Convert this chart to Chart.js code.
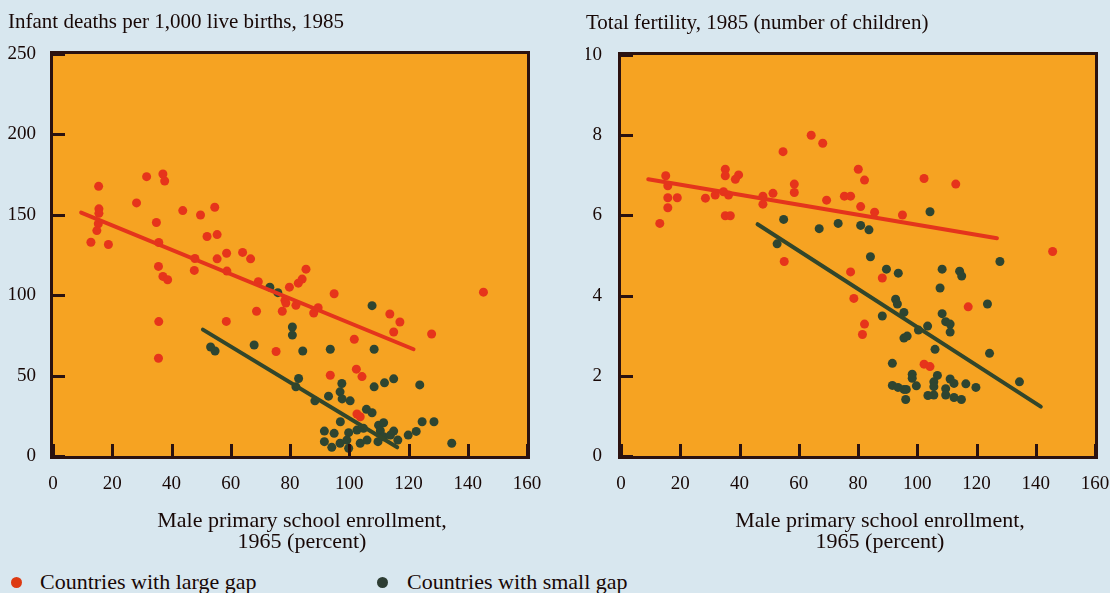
<!DOCTYPE html>
<html>
<head>
<meta charset="utf-8">
<script src="https://cdn.jsdelivr.net/npm/chart.js@4"></script>
<style>
  html, body { margin:0; padding:0; width:1110px; height:593px; overflow:hidden; background:#d8e7ef; font-family:"Liberation Serif", serif; color:#180806; }
  #wrapL { position:absolute; left:0; top:0; width:560px; height:560px; }
  #wrapR { position:absolute; left:560px; top:0; width:550px; height:560px; }
  .leg { position:absolute; top:569px; font-size:22px; line-height:26px; white-space:nowrap; }
  .dot { position:absolute; top:8px; width:11px; height:11px; border-radius:50%; }
</style>
</head>
<body>
<div id="wrapL"><canvas id="cL" width="560" height="560"></canvas></div>
<div id="wrapR"><canvas id="cR" width="550" height="560"></canvas></div>
<div class="leg" style="left:0"><span class="dot" style="left:11px;background:#dd3a12"></span><span style="position:absolute;left:40px">Countries with large gap</span></div>
<div class="leg" style="left:366px"><span class="dot" style="left:11px;background:#2d3d33"></span><span style="position:absolute;left:41px">Countries with small gap</span></div>
<script>
// ---------- data ----------
const xTicks = [0, 20, 40, 60, 80, 100, 120, 140, 160];
const infantTicks = [0, 50, 100, 150, 200, 250];
const fertilityTicks = [0, 2, 4, 6, 8, 10];
const xTitleLines = ['Male primary school enrollment,', '1965 (percent)'];
const seriesNames = ['Countries with large gap', 'Countries with small gap'];

const infantLargeGap = [
  [15.4,167.7],[31.6,173.7],[37.1,175.4],[37.7,171.0],[28.2,157.4],[15.5,153.7],[15.5,150.9],[43.8,152.6],
  [49.8,149.9],[54.6,154.7],[34.9,145.2],[15.3,144.4],[14.8,140.2],[12.8,132.9],[18.7,131.5],[35.7,132.8],
  [52.0,136.5],[55.4,137.7],[47.9,122.8],[55.4,122.6],[58.6,126.1],[64.0,126.6],[66.7,122.6],[35.6,117.9],
  [47.7,115.4],[37.1,111.7],[38.7,109.6],[58.7,115.0],[69.3,108.4],[78.3,96.8],[79.8,105.0],[68.7,90.0],
  [77.4,90.0],[35.7,83.6],[58.5,83.7],[35.6,60.8],[85.4,116.2],[84.1,110.0],[82.8,107.5],[94.9,100.9],
  [78.6,95.1],[82.0,93.7],[89.5,92.2],[88.0,88.9],[113.7,88.3],[117.1,83.3],[115.0,77.1],[127.8,75.9],
  [145.3,101.9],[101.7,72.6],[102.4,54.0],[93.6,50.2],[104.3,49.4],[102.6,26.1],[103.7,24.4],[75.3,65.0]
];
const infantSmallGap = [
  [53.2,67.8],[54.7,65.3],[67.9,69.0],[75.9,101.6],[73.2,105.0],[80.8,80.2],[80.8,75.2],[84.3,65.3],
  [93.6,66.4],[108.4,66.4],[107.7,93.5],[82.9,48.2],[97.5,45.1],[108.4,43.0],[111.9,45.5],[115.0,48.0],
  [123.8,44.2],[93.0,37.2],[96.9,39.9],[97.6,35.5],[100.3,34.3],[88.4,34.3],[82.0,43.0],[105.8,29.0],
  [107.7,26.9],[97.0,21.3],[91.6,15.5],[94.9,14.1],[99.8,14.5],[102.6,16.1],[104.8,17.2],[109.9,19.2],
  [111.6,20.7],[115.0,15.5],[110.5,15.7],[111.6,12.0],[113.9,13.0],[124.6,21.3],[128.6,21.3],[122.6,15.3],
  [119.9,13.0],[116.4,9.9],[91.6,8.9],[94.1,5.4],[96.9,7.9],[99.2,9.9],[99.8,4.8],[103.7,7.9],
  [106.0,9.9],[109.7,8.9],[134.6,7.9]
];
const infantLargeFit = [[9.5,151.4],[121.7,66.4]];
const infantSmallFit = [[50.6,78.6],[116.2,5.4]];

const fertLargeGap = [
  [64.2,8.00],[68.1,7.80],[54.7,7.59],[15.1,6.99],[35.2,7.15],[35.2,6.99],[39.7,7.01],[38.6,6.90],
  [80.1,7.15],[82.2,6.88],[15.8,6.74],[15.8,6.44],[19.0,6.44],[28.5,6.43],[31.8,6.51],[34.6,6.59],
  [36.3,6.51],[47.9,6.48],[47.9,6.28],[51.3,6.55],[58.5,6.78],[58.5,6.57],[69.4,6.38],[75.4,6.48],
  [77.5,6.48],[80.9,6.22],[85.6,6.08],[15.8,6.19],[13.1,5.80],[35.2,5.99],[36.9,5.99],[55.1,4.85],
  [77.5,4.59],[78.6,3.93],[102.3,6.92],[113.0,6.78],[95.0,6.01],[145.7,5.10],[117.2,3.72],[82.2,3.29],
  [81.5,3.03],[102.3,2.29],[104.3,2.23],[88.2,4.44]
];
const fertSmallGap = [
  [54.9,5.90],[66.9,5.67],[73.3,5.80],[80.9,5.75],[83.7,5.64],[52.7,5.29],[84.2,4.97],[104.3,6.09],
  [89.6,4.66],[93.6,4.56],[108.4,4.66],[114.3,4.61],[115.0,4.49],[127.9,4.85],[107.7,4.19],[92.7,3.91],
  [93.3,3.79],[95.5,3.58],[88.2,3.49],[123.7,3.79],[108.4,3.55],[109.6,3.35],[111.1,3.29],[111.1,3.09],
  [103.5,3.24],[100.4,3.14],[95.5,2.94],[96.6,2.99],[106.0,2.66],[124.4,2.56],[91.6,2.31],[98.3,2.04],
  [98.3,1.94],[106.8,2.01],[105.6,1.85],[111.1,1.92],[112.4,1.81],[116.4,1.80],[119.8,1.71],[134.5,1.85],
  [91.6,1.76],[93.5,1.71],[95.5,1.66],[96.3,1.66],[99.7,1.75],[105.6,1.73],[105.6,1.52],[103.6,1.51],
  [109.6,1.68],[109.6,1.52],[112.4,1.46],[114.9,1.41],[96.1,1.41]
];
const fertLargeFit = [[9.2,6.90],[126.9,5.43]];
const fertSmallFit = [[46.1,5.78],[141.7,1.23]];

// ---------- styles ----------
const TEXT = '#180806';
const PLOT_BG = '#f6a322';
const FRAME = '#2b1210';
const RED = '#e6341b';
const GREEN = '#2e4531';
const RED_LINE = '#e4341c';
const GREEN_LINE = '#32462b';
Chart.defaults.font.family = '"Liberation Serif", serif';
Chart.defaults.color = TEXT;

const toPts = arr => arr.map(([x, y]) => ({x, y}));

const framePlugin = {
  id: 'frame',
  beforeDraw(chart) {
    const {ctx, chartArea: a} = chart;
    ctx.save();
    ctx.fillStyle = PLOT_BG;
    ctx.fillRect(a.left, a.top, a.width, a.height);
    ctx.lineWidth = 3;
    ctx.strokeStyle = FRAME;
    ctx.strokeRect(a.left - 1.5, a.top - 1.5, a.width + 3, a.height + 3);
    ctx.restore();
  },
  afterDraw(chart, args, o) {
    const {ctx, chartArea: a, scales} = chart;
    // inward tick marks on the bottom and left edges
    ctx.save();
    ctx.fillStyle = FRAME;
    const xs = scales.x, ys = scales.y;
    for (const t of xs.ticks) {
      const px = Math.round(xs.getPixelForValue(t.value));
      ctx.fillRect(px - 1, a.bottom - 12, 3, 13);
    }
    for (const t of ys.ticks) {
      const py = Math.round(ys.getPixelForValue(t.value));
      ctx.fillRect(a.left - 1, py - 1, 13, 3);
    }
    ctx.restore();
    // two-line x-axis title
    ctx.save();
    ctx.font = '22px "Liberation Serif"';
    ctx.fillStyle = TEXT;
    ctx.textAlign = 'center';
    ctx.textBaseline = 'middle';
    o.lines.forEach((t, i) => ctx.fillText(t, o.centerX, o.firstY + i * o.gap));
    ctx.restore();
  }
};

function makeChart(id, cfg) {
  const scatter = (label, data, color) => ({
    type: 'scatter', label, data: toPts(data), backgroundColor: color,
    pointRadius: 4.5, pointBorderWidth: 0, order: 2
  });
  const fit = (data, color) => ({
    type: 'line', data: toPts(data), borderColor: color, borderWidth: 4,
    pointRadius: 0, borderCapStyle: 'round', order: 1, fill: false
  });
  return new Chart(document.getElementById(id), {
    type: 'scatter',
    data: {
      datasets: [
        scatter(seriesNames[0], cfg.large, RED),
        scatter(seriesNames[1], cfg.small, GREEN),
        fit(cfg.largeFit, RED_LINE),
        fit(cfg.smallFit, GREEN_LINE)
      ]
    },
    options: {
      responsive: false,
      animation: false,
      layout: { padding: cfg.padding },
      plugins: {
        legend: { display: false },
        tooltip: { enabled: false },
        title: {
          display: true, text: cfg.title, align: 'start', color: TEXT,
          font: { size: 21, weight: 'normal' }, padding: { top: 10, bottom: 18.8 }
        },
        frame: { lines: xTitleLines, centerX: cfg.xTitleX, firstY: 521, gap: 21 }
      },
      scales: {
        x: {
          type: 'linear', min: xTicks[0], max: xTicks[xTicks.length - 1],
          afterBuildTicks: s => { s.ticks = xTicks.map(v => ({value: v})); },
          afterFit: s => { s.height = 104; s.paddingLeft = 0; s.paddingRight = 0; },
          grid: { display: false, drawTicks: false },
          border: { display: false },
          ticks: { padding: 17, color: TEXT, font: { size: 19 }, autoSkip: false, maxRotation: 0 }
        },
        y: {
          type: 'linear', min: cfg.yTicks[0], max: cfg.yTicks[cfg.yTicks.length - 1],
          afterBuildTicks: s => { s.ticks = cfg.yTicks.map(v => ({value: v})); },
          afterFit: s => { s.width = cfg.yWidth; s.paddingTop = 0; s.paddingBottom = 0; },
          grid: { display: false, drawTicks: false },
          border: { display: false },
          ticks: { padding: cfg.yPad, color: TEXT, font: { size: 19 }, autoSkip: false }
        }
      }
    },
    plugins: [framePlugin]
  });
}

makeChart('cL', {
  title: 'Infant deaths per 1,000 live births, 1985',
  large: infantLargeGap, small: infantSmallGap,
  largeFit: infantLargeFit, smallFit: infantSmallFit,
  yTicks: infantTicks,
  padding: { left: 8, right: 33, top: 0, bottom: 0 },
  yWidth: 45, yPad: 17, xTitleX: 302
});
makeChart('cR', {
  title: 'Total fertility, 1985 (number of children)',
  large: fertLargeGap, small: fertSmallGap,
  largeFit: fertLargeFit, smallFit: fertSmallFit,
  yTicks: fertilityTicks,
  padding: { left: 26, right: 15, top: 1, bottom: 0 },
  yWidth: 35, yPad: 19, xTitleX: 320
});
</script>
</body>
</html>
